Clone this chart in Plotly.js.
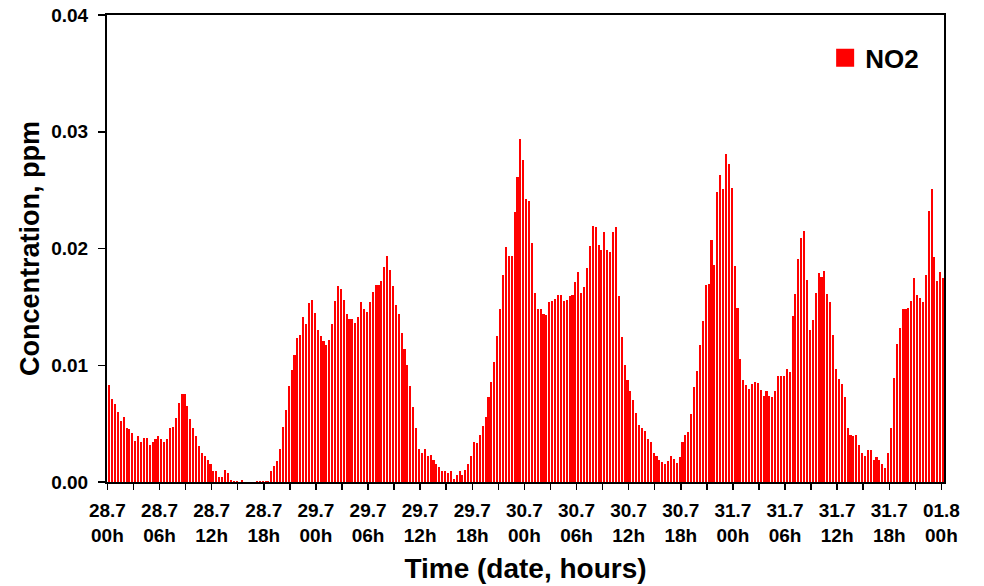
<!DOCTYPE html>
<html>
<head>
<meta charset="utf-8">
<script src="https://cdn.plot.ly/plotly-3.0.1.min.js"></script>
<style>
  html, body { margin: 0; padding: 0; background: #ffffff; }
  #chart { width: 984px; height: 586px; }
</style>
</head>
<body>
<div id="chart"></div>
<script>
// NO2 concentration (ppm), one reading every 20 minutes, 28.7 to 01.8
const NO2 = [
  0.0083,0.0071,0.0067,0.0060,0.0052,0.0056,0.0046,0.0045,0.0042,0.0035,0.0039,0.0034,
  0.0038,0.0038,0.0032,0.0034,0.0037,0.0039,0.0037,0.0034,0.0037,0.0046,0.0047,0.0055,
  0.0068,0.0075,0.0075,0.0065,0.0054,0.0046,0.0039,0.0031,0.0025,0.0022,0.0019,0.0015,
  0.0009,0.0009,0.0004,0.0004,0.0010,0.0008,0.0002,0.0001,0.0001,0.0000,0.0002,0.0000,
  0.0000,0.0000,0.0000,0.0001,0.0001,0.0001,0.0001,0.0001,0.0009,0.0014,0.0018,0.0028,
  0.0047,0.0062,0.0082,0.0096,0.0109,0.0123,0.0126,0.0141,0.0135,0.0153,0.0156,0.0145,
  0.0130,0.0125,0.0121,0.0117,0.0122,0.0135,0.0155,0.0168,0.0165,0.0156,0.0144,0.0140,
  0.0140,0.0136,0.0141,0.0154,0.0148,0.0146,0.0154,0.0163,0.0169,0.0169,0.0172,0.0184,
  0.0194,0.0182,0.0168,0.0152,0.0144,0.0128,0.0114,0.0100,0.0082,0.0064,0.0046,0.0028,
  0.0025,0.0028,0.0022,0.0023,0.0019,0.0015,0.0013,0.0009,0.0009,0.0008,0.0009,0.0003,
  0.0006,0.0009,0.0006,0.0010,0.0015,0.0022,0.0034,0.0033,0.0040,0.0048,0.0056,0.0073,
  0.0086,0.0103,0.0125,0.0148,0.0177,0.0201,0.0194,0.0194,0.0231,0.0261,0.0294,0.0276,
  0.0242,0.0241,0.0205,0.0162,0.0148,0.0148,0.0144,0.0143,0.0154,0.0155,0.0157,0.0160,
  0.0160,0.0155,0.0156,0.0159,0.0160,0.0171,0.0180,0.0162,0.0167,0.0183,0.0202,0.0219,
  0.0218,0.0203,0.0199,0.0214,0.0199,0.0197,0.0214,0.0218,0.0159,0.0124,0.0100,0.0087,
  0.0078,0.0070,0.0059,0.0049,0.0046,0.0044,0.0037,0.0034,0.0025,0.0022,0.0019,0.0017,
  0.0015,0.0018,0.0022,0.0020,0.0016,0.0021,0.0034,0.0040,0.0043,0.0058,0.0081,0.0095,
  0.0117,0.0138,0.0169,0.0170,0.0207,0.0186,0.0248,0.0263,0.0251,0.0281,0.0272,0.0252,
  0.0185,0.0149,0.0105,0.0087,0.0083,0.0080,0.0084,0.0086,0.0085,0.0079,0.0074,0.0078,
  0.0074,0.0073,0.0078,0.0091,0.0091,0.0091,0.0097,0.0094,0.0142,0.0161,0.0191,0.0209,
  0.0215,0.0173,0.0130,0.0139,0.0162,0.0179,0.0176,0.0181,0.0161,0.0154,0.0126,0.0097,
  0.0088,0.0084,0.0073,0.0046,0.0040,0.0039,0.0040,0.0032,0.0025,0.0022,0.0027,0.0027,
  0.0019,0.0021,0.0019,0.0015,0.0012,0.0025,0.0046,0.0089,0.0118,0.0132,0.0148,0.0148,
  0.0149,0.0155,0.0175,0.0160,0.0158,0.0154,0.0177,0.0232,0.0251,0.0193,0.0172,0.0180,
  0.0175
];

// Sampling: first reading 12 minutes after midnight on 28.7, then every 20 minutes
const FIRST_READING_H = 0.2;
const STEP_H = 1 / 3;

// Labelled ticks every 6 hours, plain ticks in between
const DATE_LABELS = ['28.7','28.7','28.7','28.7','29.7','29.7','29.7','29.7',
                     '30.7','30.7','30.7','30.7','31.7','31.7','31.7','31.7','01.8'];
const HOUR_LABELS = ['00h','06h','12h','18h','00h','06h','12h','18h',
                     '00h','06h','12h','18h','00h','06h','12h','18h','00h'];
const LABEL_STEP_H = 6;
const TICK_STEP_H = 3;

const hours = NO2.map((_, i) => FIRST_READING_H + i * STEP_H);

const tickVals = [];
const tickText = [];
for (let h = 0; h <= LABEL_STEP_H * (DATE_LABELS.length - 1); h += TICK_STEP_H) {
  tickVals.push(h);
  if (h % LABEL_STEP_H === 0) {
    const j = h / LABEL_STEP_H;
    tickText.push(DATE_LABELS[j] + '<br>' + HOUR_LABELS[j]);
  } else {
    tickText.push('');
  }
}

const FONT = 'Liberation Sans, Arial, Helvetica, sans-serif';

const trace = {
  type: 'bar',
  name: 'NO2',
  x: hours,
  y: NO2,
  width: 0.24,
  marker: { color: '#ff0000', line: { width: 0 } },
  hoverinfo: 'x+y'
};

const layout = {
  width: 984,
  height: 586,
  margin: { l: 107, r: 40, t: 15, b: 104 },
  paper_bgcolor: '#ffffff',
  plot_bgcolor: '#ffffff',
  bargap: 0,
  showlegend: true,
  legend: {
    x: 0.858, xanchor: 'left',
    y: 0.908, yanchor: 'middle',
    bgcolor: 'rgba(0,0,0,0)',
    font: { family: FONT, size: 26, color: '#000', weight: 700 }
  },
  font: { family: FONT, color: '#000' },
  xaxis: {
    range: [-0.05, 96.3],
    tickmode: 'array',
    tickvals: tickVals,
    ticktext: tickText,
    ticks: 'outside',
    ticklen: 6,
    tickwidth: 1.5,
    tickcolor: '#000',
    ticklabelstandoff: 4,
    tickfont: { family: FONT, size: 19, color: '#000', weight: 700 },
    showline: true,
    linecolor: '#000',
    linewidth: 2,
    mirror: true,
    showgrid: false,
    zeroline: false,
    automargin: false,
    title: {
      text: 'Time (date, hours)',
      font: { family: FONT, size: 28, color: '#000', weight: 700 },
      standoff: 14
    }
  },
  yaxis: {
    range: [0, 0.04],
    tickmode: 'linear',
    tick0: 0,
    dtick: 0.01,
    tickformat: '.2f',
    ticks: 'outside',
    ticklen: 7,
    tickwidth: 1.5,
    tickcolor: '#000',
    ticklabelstandoff: 6,
    tickfont: { family: FONT, size: 19, color: '#000', weight: 700 },
    showline: true,
    linecolor: '#000',
    linewidth: 2,
    mirror: true,
    showgrid: false,
    zeroline: false,
    automargin: false,
    title: {
      text: 'Concentration, ppm',
      font: { family: FONT, size: 27, color: '#000', weight: 700 },
      standoff: 4
    }
  }
};

Plotly.newPlot('chart', [trace], layout, { staticPlot: true, displayModeBar: false }).then(() => {
  // square legend key, set a little to the right of its default spot
  document.querySelectorAll('#chart .legendpoints path').forEach(p => {
    p.setAttribute('d', 'M9,9H-9V-9H9Z');
    p.setAttribute('transform', 'translate(20,0)');
  });
});
</script>
</body>
</html>
